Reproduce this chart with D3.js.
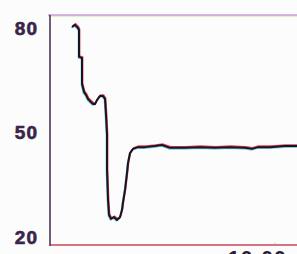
<!DOCTYPE html>
<html>
<head>
<meta charset="utf-8">
<script src="https://cdn.jsdelivr.net/npm/d3@7"></script>
<style>
  html, body { margin: 0; padding: 0; background: #fcfcfc; overflow: hidden; }
  svg { display: block; }
</style>
</head>
<body>
<script>
// ---- data ----
const timeIdx = [8.8, 10, 11.2, 11.6, 11.6, 12.8, 12.8, 13.6, 14.4, 15.2, 16, 17.2, 18, 18.8, 20, 21.2, 22, 22.4, 22.8, 22.8, 23.2, 23.6, 24.4, 25.6, 26.8, 28, 28.8, 29.2, 30, 30.8, 31.2, 32, 33.2, 35.2, 38, 42, 44.8, 48, 54, 60, 66, 72, 78, 80.8, 83.2, 88, 94, 99];
const values  = [80.3, 80.9, 80, 79.4, 71.7, 71.4, 63.9, 61.6, 60.8, 59.6, 59.0, 58.2, 58.2, 59.3, 60.5, 60.5, 59.6, 55.0, 49.3, 39.2, 30.6, 26.3, 25.2, 25.7, 24.9, 25.7, 27.8, 30.0, 33.5, 38.4, 41.2, 44.1, 45.3, 45.8, 45.8, 46.1, 46.4, 45.6, 45.6, 45.8, 45.6, 45.8, 45.6, 45.3, 45.8, 45.8, 46.1, 46.1];
const yTicks = [20, 50, 80];
const xTickValue = 90;
const xTickLabel = "10:00";

// ---- layout ----
const W = 297, H = 254;
const mLeft = 50, mTop = 15, mBottom = 245, mRight = 300;

const svg = d3.select("body").append("svg").attr("width", W).attr("height", H);
svg.append("rect").attr("width", W).attr("height", H).attr("fill", "#fcfcfc");

const x = d3.scaleLinear().domain([0, 100]).range([mLeft, mRight]);
const y = d3.scaleLinear().domain([20, 80]).range([237, 28]);

// frame: top border (lavender with green fringe)
svg.append("line").attr("x1", mLeft - 2).attr("x2", W).attr("y1", mTop + 1).attr("y2", mTop + 1)
  .attr("stroke", "#c4e59a").attr("stroke-width", 1.2);
svg.append("line").attr("x1", mLeft - 2).attr("x2", W).attr("y1", mTop).attr("y2", mTop)
  .attr("stroke", "#c9a0da").attr("stroke-width", 1.4);

// bottom axis line (red)
svg.append("line").attr("x1", mLeft).attr("x2", W).attr("y1", mBottom).attr("y2", mBottom)
  .attr("stroke", "#c74a5a").attr("stroke-width", 1.6);
// left axis line (dark purple)
svg.append("line").attr("x1", mLeft).attr("x2", mLeft).attr("y1", mTop).attr("y2", mBottom + 1)
  .attr("stroke", "#4d3656").attr("stroke-width", 1.6);

// y axis labels
const yAxis = d3.axisLeft(y).tickValues(yTicks).tickSize(0).tickPadding(12).tickFormat(d3.format("d"));
const gy = svg.append("g").attr("transform", `translate(${mLeft},0)`).call(yAxis);
gy.select(".domain").remove();
gy.selectAll("text")
  .attr("font-family", "'Liberation Sans', Arial, sans-serif")
  .attr("font-weight", "bold")
  .attr("font-size", 19)
  .attr("letter-spacing", 1)
  .attr("fill", "#3a2548")
  .attr("stroke", "#3a2548").attr("stroke-width", 0.6);

// x axis tick + cut-off label
const gx = svg.append("g");
gx.append("line").attr("x1", x(xTickValue)).attr("x2", x(xTickValue))
  .attr("y1", mBottom - 2).attr("y2", mBottom).attr("stroke", "#8aa8d0").attr("stroke-width", 1);
gx.append("text").attr("x", 228).attr("y", 265)
  .attr("font-family", "'Liberation Sans', Arial, sans-serif")
  .attr("font-weight", "bold").attr("font-size", 21).attr("letter-spacing", 1)
  .attr("fill", "#2a1a35").text(xTickLabel);

// trend line with scan-like colour fringes
const data = timeIdx.map((t, i) => ({ t, v: values[i] }));
const line = d3.line().x(d => x(d.t)).y(d => y(d.v)).curve(d3.curveLinear);

svg.append("path").datum(data).attr("d", line).attr("fill", "none")
  .attr("stroke", "#6fd6e6").attr("stroke-width", 1.6).attr("transform", "translate(-0.6,1)");
svg.append("path").datum(data).attr("d", line).attr("fill", "none")
  .attr("stroke", "#e2404c").attr("stroke-width", 1.6).attr("transform", "translate(0.6,-1)");
svg.append("path").datum(data).attr("d", line).attr("fill", "none")
  .attr("stroke", "#1c1222").attr("stroke-width", 2).attr("stroke-linejoin", "round");
</script>
</body>
</html>
